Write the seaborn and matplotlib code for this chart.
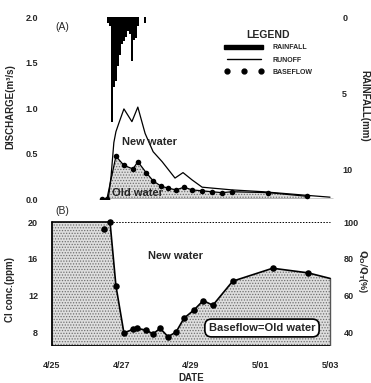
import matplotlib
matplotlib.use("Agg")
import matplotlib.pyplot as plt
from matplotlib.patches import Patch
from matplotlib.lines import Line2D
import seaborn as sns
import pandas as pd

# ---------------- data (days after 4/25 00:00) ----------------
date_ticks = [0, 2, 4, 6, 8]
date_labels = ["4/25", "4/27", "4/29", "5/01", "5/03"]

rain_day = [1.61, 1.67, 1.73, 1.78, 1.84, 1.90, 1.96, 2.01, 2.07, 2.13, 2.19,
            2.24, 2.30, 2.36, 2.42, 2.47, 2.68]
rain_mm = [0.4, 0.6, 6.9, 4.6, 4.2, 3.2, 2.5, 1.8, 1.6, 1.3, 0.9,
           1.1, 2.9, 1.5, 1.4, 0.6, 0.4]

runoff_day = [1.62, 1.70, 1.78, 1.84, 1.93, 2.07, 2.30, 2.47, 2.68, 2.91, 3.17,
              3.54, 3.77, 4.03, 4.32, 4.60, 4.89, 5.18, 6.07, 7.34, 8.00]
runoff = [0.0, 0.25, 0.62, 0.74, 0.84, 0.99, 0.85, 1.01, 0.72, 0.52, 0.41,
          0.23, 0.29, 0.21, 0.13, 0.12, 0.11, 0.10, 0.08, 0.04, 0.02]

base_day = [1.44, 1.58, 1.84, 2.07, 2.33, 2.47, 2.71, 2.91, 3.14, 3.34, 3.57,
            3.80, 4.03, 4.32, 4.60, 4.89, 5.18, 6.22, 7.34]
baseflow = [0.0, 0.0, 0.47, 0.37, 0.33, 0.41, 0.29, 0.20, 0.14, 0.12, 0.10,
            0.13, 0.10, 0.09, 0.08, 0.07, 0.08, 0.07, 0.03]

cl_day = [1.50, 1.67, 1.84, 2.07, 2.33, 2.45, 2.71, 2.91, 3.11, 3.34, 3.57,
          3.80, 4.09, 4.35, 4.63, 5.20, 6.35, 7.37]
cl_ppm = [19.2, 20.0, 13.1, 8.0, 8.4, 8.5, 8.3, 7.9, 8.5, 7.6, 8.1,
          9.6, 10.5, 11.5, 11.0, 13.6, 15.0, 14.5]
cl_pre_day, cl_pre = 0.0, 20.0      # pre-event concentration
cl_end_day, cl_end = 8.0, 13.9      # end of record

# ---------------- style ----------------
sns.set_style("white")
plt.rcParams["font.family"] = ["Liberation Sans", "DejaVu Sans"]
plt.rcParams["hatch.linewidth"] = 0.6

W, H = 371, 383
fig = plt.figure(figsize=(W / 100, H / 100), dpi=100)

def fx(px):
    return px / W

def fy(py):
    return 1 - py / H

xlim = (-0.201, 8.23)
axA = fig.add_axes([fx(45), fy(199), fx(293), 182 / H])
axB = fig.add_axes([fx(45), fy(346), fx(293), 141 / H])

stip_face = "#dedede"
stip_edge = "#707070"

# ---------------- panel A ----------------
dfr = pd.DataFrame({"day": runoff_day, "q": runoff})
dfb = pd.DataFrame({"day": base_day, "q": baseflow})

axA.fill_between(base_day, 0, baseflow, facecolor=stip_face, edgecolor=stip_edge,
                 hatch="......", linewidth=0, zorder=1)
axA.hlines(0, xlim[0], base_day[0], colors="black", linestyles=(0, (1, 1.5)), lw=0.7)
axA.hlines(0, base_day[0], cl_end_day + 0.1, colors="black", lw=1.0, zorder=3)
sns.lineplot(data=dfr, x="day", y="q", ax=axA, color="black", lw=0.9,
             estimator=None, sort=False, zorder=3)
sns.lineplot(data=dfb, x="day", y="q", ax=axA, color="black", lw=0.9,
             estimator=None, sort=False, zorder=3)
sns.scatterplot(data=dfb, x="day", y="q", ax=axA, color="black", s=16,
                linewidth=0, zorder=4)

axA.set_xlim(*xlim)
axA.set_ylim(0, 2.0)
axA.set_yticks([0, 0.5, 1.0, 1.5, 2.0])
axA.set_yticklabels(["0.0", "0.5", "1.0", "1.5", "2.0"])
axA.set_xticks([])
axA.set_xlabel("")
axA.set_ylabel("")
axA.tick_params(axis="y", length=0, pad=5, labelsize=6.5)
for lab in axA.get_yticklabels():
    lab.set_fontweight("bold")
for s in axA.spines.values():
    s.set_visible(False)

axA2 = axA.twinx()
axA2.bar(rain_day, rain_mm, width=0.06, bottom=0, color="black", linewidth=0)
axA2.set_ylim(11.97, 0)
axA2.set_xlim(*xlim)
axA2.set_yticks([0, 5, 10])
axA2.tick_params(axis="y", length=0, pad=3, labelsize=6.5)
for lab in axA2.get_yticklabels():
    lab.set_fontweight("bold")
for s in axA2.spines.values():
    s.set_visible(False)

# legend
handles = [Patch(facecolor="black", edgecolor="black"),
           Line2D([], [], color="black", lw=1.0),
           Line2D([], [], color="black", marker="o", ls="none", markersize=3.5)]
leg = axA2.legend(handles, ["RAINFALL", "RUNOFF", "BASEFLOW"],
                  loc="upper left", bbox_to_anchor=(fx(221), fy(41)),
                  bbox_transform=fig.transFigure, frameon=False,
                  prop={"size": 5, "weight": "bold"}, handlelength=5.6,
                  handletextpad=1.3, labelspacing=0.75, borderpad=0,
                  numpoints=3)
fig.text(fx(268), fy(35), "LEGEND", ha="center", va="center", fontsize=7.5,
         fontweight="bold")

# ---------------- panel B ----------------
out_day = [cl_pre_day] + cl_day[1:] + [cl_end_day]
out_val = [cl_pre] + cl_ppm[1:] + [cl_end]
ylo, yhi = 6.59, 21.84
axB.fill_between(out_day, ylo, out_val, facecolor=stip_face, edgecolor=stip_edge,
                 hatch="......", linewidth=0, zorder=1)
axB.plot([cl_pre_day, cl_pre_day], [ylo, cl_pre], color="black", lw=1.3, zorder=3)
axB.plot([cl_end_day, cl_end_day], [ylo, cl_end], color="#555555", lw=1.0, zorder=3)
axB.hlines(ylo + 0.05, cl_pre_day, cl_end_day, colors="black", lw=1.3, zorder=3)
axB.hlines(cl_pre, cl_day[1], cl_end_day, colors="black",
           linestyles=(0, (1.5, 1.5)), lw=0.7, zorder=2)
dfo = pd.DataFrame({"day": out_day, "cl": out_val})
sns.lineplot(data=dfo, x="day", y="cl", ax=axB, color="black", lw=1.2,
             estimator=None, sort=False, zorder=3)
dfc = pd.DataFrame({"day": cl_day, "cl": cl_ppm})
sns.scatterplot(data=dfc, x="day", y="cl", ax=axB, color="black", s=22,
                linewidth=0, zorder=4)

axB.set_xlim(*xlim)
axB.set_ylim(ylo, yhi)
axB.set_yticks([8, 12, 16, 20])
axB.set_xticks(date_ticks)
axB.set_xticklabels(date_labels)
axB.set_xlabel("")
axB.set_ylabel("")
axB.tick_params(axis="both", length=0, labelsize=6.5)
axB.tick_params(axis="y", pad=5)
axB.tick_params(axis="x", pad=11)
for lab in axB.get_yticklabels() + axB.get_xticklabels():
    lab.set_fontweight("bold")
for s in axB.spines.values():
    s.set_visible(False)

axB2 = axB.twinx()
axB2.set_ylim(ylo * 5, yhi * 5)
axB2.set_yticks([40, 60, 80, 100])
axB2.tick_params(axis="y", length=0, pad=4, labelsize=6.5)
for lab in axB2.get_yticklabels():
    lab.set_fontweight("bold")
for s in axB2.spines.values():
    s.set_visible(False)

# ---------------- labels & annotations ----------------
fig.text(fx(10), fy(107), "DISCHARGE(m³/s)", rotation=90, ha="center", va="center",
         fontsize=7, fontweight="bold")
fig.text(fx(364), fy(106), "RAINFALL(mm)", rotation=270, ha="center", va="center",
         fontsize=7, fontweight="bold")
fig.text(fx(10), fy(290), "Cl conc.(ppm)", rotation=90, ha="center", va="center",
         fontsize=7, fontweight="bold")
fig.text(fx(363), fy(271), r"$\mathbf{Q_O/Q_T}$(%)", rotation=270, ha="center",
         va="center", fontsize=6.5, fontweight="bold")
fig.text(fx(191), fy(378), "DATE", ha="center", va="center", fontsize=7,
         fontweight="bold")

fig.text(fx(62), fy(27), "(A)", ha="center", va="center", fontsize=7.5)
fig.text(fx(62), fy(211), "(B)", ha="center", va="center", fontsize=7.5)
fig.text(fx(149), fy(142), "New water", ha="center", va="center", fontsize=8,
         fontweight="bold")
fig.text(fx(137), fy(193), "Old water", ha="center", va="center", fontsize=8,
         fontweight="bold")
fig.text(fx(176), fy(256), "New water", ha="center", va="center", fontsize=8,
         fontweight="bold")
fig.text(fx(262), fy(328), "Baseflow=Old water", ha="center", va="center",
         fontsize=8, fontweight="bold",
         bbox=dict(boxstyle="round,pad=0.35,rounding_size=0.6", facecolor="white",
                   edgecolor="black", linewidth=1.2))

fig.savefig("out.png", dpi=100)
